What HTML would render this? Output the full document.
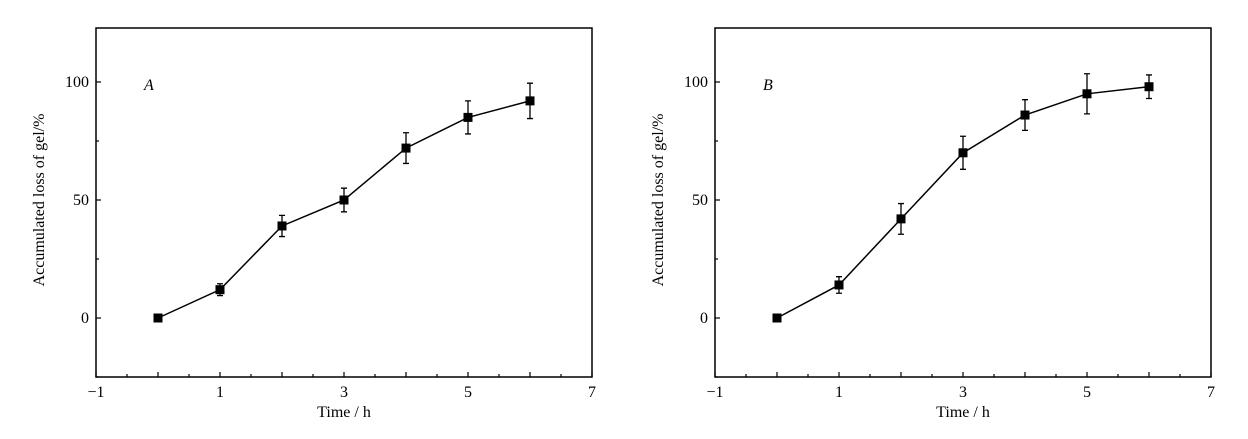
<!DOCTYPE html>
<html><head><meta charset="utf-8"><style>
html,body{margin:0;padding:0;background:#fff;}
svg{display:block;font-family:"Liberation Serif",serif;}
</style></head><body>
<svg id="chart" width="1248" height="439" viewBox="0 0 1248 439"></svg>
<script>
const times = [0, 1, 2, 3, 4, 5, 6];
const valuesA = [0, 12, 39, 50, 72, 85, 92];
const errorsA = [0, 2.5, 4.5, 5, 6.5, 7, 7.5];
const valuesB = [0, 14, 42, 70, 86, 95, 98];
const errorsB = [0, 3.5, 6.5, 7, 6.5, 8.5, 5];
const xTickLabels = [-1, 1, 3, 5, 7];
const yTickLabels = [0, 50, 100];
const panelNames = ['A', 'B'];

const NS = 'http://www.w3.org/2000/svg';
const svg = document.getElementById('chart');
function mk(tag, attrs, parent) {
  const e = document.createElementNS(NS, tag);
  for (const k in attrs) e.setAttribute(k, attrs[k]);
  (parent || svg).appendChild(e);
  return e;
}
function panel(left, label, vals, errs) {
  const right = left + 496, top = 28, bottom = 377;
  const xS = v => left + (v + 1) * 62;
  const yS = v => 318 - v * 2.36;
  const g = mk('g', {});
  
  
  const frame = mk('rect', {x: left, y: top, width: right - left, height: bottom - top, fill: 'none', stroke: '#000', 'stroke-width': 1.5}, g);
  
  
  for (let t = -1; t <= 7; t += 0.5) {
    const x = xS(t);
    const len = Number.isInteger(t) ? 5 : 3;
    mk('line', {x1: x, x2: x, y1: bottom, y2: bottom - len, stroke: '#000', 'stroke-width': 1.2}, g);
  }
  for (let v = -25; v <= 125; v += 25) {
    const y = yS(v);
    if (y < top || y > bottom) continue;
    const len = v % 50 === 0 ? 5 : 3;
    mk('line', {x1: left, x2: left + len, y1: y, y2: y, stroke: '#000', 'stroke-width': 1.2}, g);
  }
  xTickLabels.forEach(t => {
    const tx = mk('text', {x: xS(t), y: bottom + 20, 'text-anchor': 'middle', 'font-size': 16}, g);
    tx.textContent = t < 0 ? '\u2212' + Math.abs(t) : String(t);
    
    
  });
  yTickLabels.forEach(v => {
    const tx = mk('text', {x: left - 7, y: yS(v) + 5, 'text-anchor': 'end', 'font-size': 16}, g);
    tx.textContent = String(v);
    
    
  });
  const xt = mk('text', {x: (left + right) / 2, y: 417, 'text-anchor': 'middle', 'font-size': 16}, g);
  xt.textContent = 'Time / h';
  
  
  const cy = 200, cx = left - 52;
  const yt = mk('text', {x: cx, y: cy, 'text-anchor': 'middle', 'font-size': 16, transform: 'rotate(-90 ' + cx + ' ' + cy + ')'}, g);
  yt.textContent = 'Accumulated loss of gel/%';
  
  
  const pl = mk('text', {x: left + 48, y: 90, 'font-size': 16, 'font-style': 'italic'}, g);
  pl.textContent = label;
  
  
  const pts = times.map((t, i) => xS(t) + ',' + yS(vals[i])).join(' ');
  const line = mk('polyline', {points: pts, fill: 'none', stroke: '#000', 'stroke-width': 1.5}, g);
  
  
  times.forEach((t, i) => {
    const x = xS(t);
    if (errs[i] > 0) {
      const y1 = yS(vals[i] + errs[i]), y2 = yS(vals[i] - errs[i]);
      const eb = mk('path', {d: `M${x},${y1}V${y2}M${x-3},${y1}H${x+3}M${x-3},${y2}H${x+3}`, stroke: '#000', 'stroke-width': 1.3, fill: 'none'}, g);
      
      
    }
    const m = mk('rect', {x: x - 4.5, y: yS(vals[i]) - 4.5, width: 9, height: 9, fill: '#000'}, g);
    
    
  });
}
panel(96, panelNames[0], valuesA, errorsA);
panel(715, panelNames[1], valuesB, errorsB);
</script>
</body></html>
